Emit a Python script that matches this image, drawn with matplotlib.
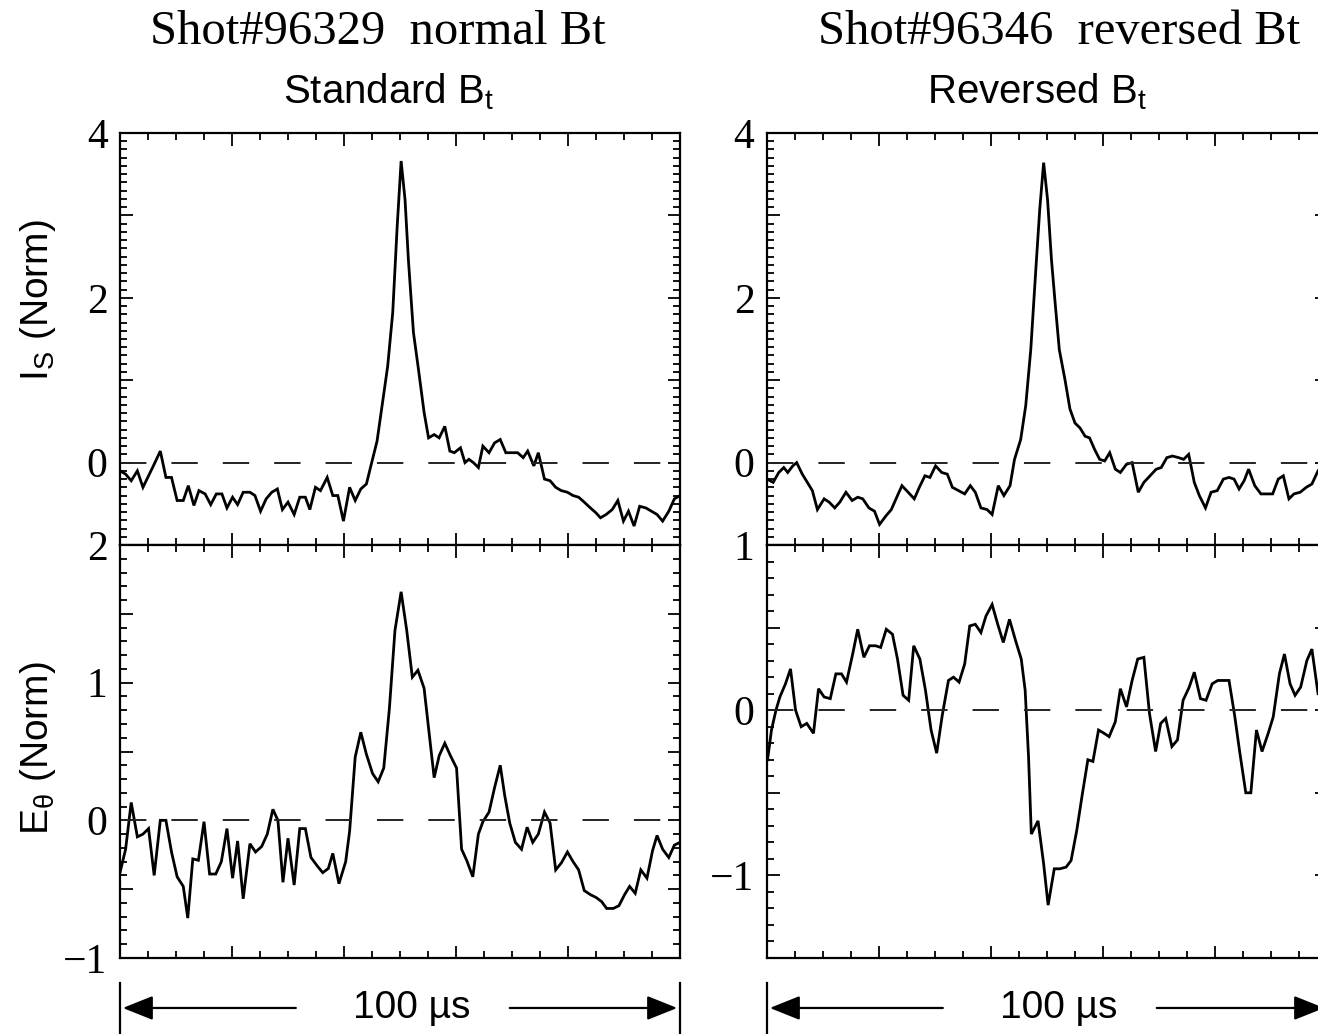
import matplotlib
matplotlib.use("Agg")
import matplotlib.pyplot as plt
from matplotlib.ticker import FixedLocator, MultipleLocator

plt.rcParams['mathtext.fontset'] = 'custom'
plt.rcParams['mathtext.rm'] = 'Liberation Sans'
plt.rcParams['mathtext.it'] = 'Liberation Sans:italic'
plt.rcParams['lines.scale_dashes'] = False

SERIF = 'Liberation Serif'
SANS = 'Liberation Sans'

# ---- ion saturation current, normal Bt (shot 96329) ----
t_is_norm = [0.0, 1.0, 2.0, 3.1, 4.1, 5.1, 6.1, 7.2, 8.2, 9.2, 10.2, 11.3, 12.2, 13.2, 14.1,
             15.2, 16.2, 17.2, 18.2, 19.1, 20.1, 21.0, 22.0, 23.2, 24.1, 25.1, 26.1, 27.1,
             28.1, 29.0, 30.0, 31.1, 32.1, 33.1, 33.9, 34.9, 35.8, 37.0, 38.0, 38.9, 39.9,
             41.0, 42.0, 43.0, 44.0, 44.8, 45.9, 46.8, 47.8, 48.7, 49.5, 50.2, 50.9, 51.5,
             52.4, 53.3, 54.3, 55.1, 56.1, 57.0, 58.0, 58.9, 59.7, 60.8, 61.6, 62.3, 63.1,
             64.0, 64.8, 65.9, 66.9, 67.9, 68.9, 70.0, 71.0, 72.0, 72.8, 73.9, 74.7, 75.8,
             76.8, 77.8, 78.8, 79.9, 80.9, 81.9, 82.9, 84.0, 85.0, 85.8, 86.8, 87.9, 88.9,
             89.9, 90.8, 91.8, 92.8, 93.9, 94.9, 95.9, 96.9, 98.0, 99.0, 100.0]
is_norm = [-0.10, -0.14, -0.22, -0.10, -0.30, -0.16, -0.02, 0.14, -0.18, -0.18, -0.46, -0.46,
           -0.28, -0.52, -0.34, -0.38, -0.51, -0.38, -0.38, -0.55, -0.42, -0.51, -0.36, -0.36,
           -0.40, -0.59, -0.44, -0.36, -0.32, -0.57, -0.48, -0.63, -0.42, -0.42, -0.57, -0.30,
           -0.34, -0.18, -0.40, -0.40, -0.71, -0.30, -0.46, -0.32, -0.26, -0.04, 0.26, 0.69,
           1.17, 1.82, 2.87, 3.66, 3.19, 2.46, 1.58, 1.13, 0.61, 0.30, 0.34, 0.30, 0.44, 0.14,
           0.12, 0.18, 0.00, 0.04, 0.00, -0.06, 0.20, 0.12, 0.24, 0.28, 0.12, 0.12, 0.12, 0.06,
           0.14, -0.04, 0.12, -0.20, -0.22, -0.30, -0.34, -0.36, -0.40, -0.42, -0.48, -0.55,
           -0.61, -0.67, -0.63, -0.57, -0.46, -0.71, -0.59, -0.77, -0.53, -0.55, -0.59, -0.63,
           -0.71, -0.59, -0.44, -0.40]

# ---- poloidal electric field, normal Bt ----
t_e_norm = [0.0, 1.0, 2.0, 3.1, 4.1, 5.1, 6.1, 7.2, 8.2, 9.2, 10.2, 11.3, 12.1, 13.0, 14.0,
            15.0, 16.0, 17.1, 18.1, 19.1, 20.1, 21.0, 22.0, 23.2, 24.2, 25.3, 26.3, 27.3,
            28.2, 29.1, 30.0, 31.1, 32.1, 33.1, 34.1, 35.2, 36.2, 37.2, 38.0, 39.1, 40.3,
            41.0, 42.0, 43.0, 44.0, 45.1, 46.1, 47.1, 48.1, 49.1, 50.2, 51.2, 52.2, 53.2,
            54.3, 55.1, 56.1, 57.0, 58.0, 59.0, 60.1, 61.0, 61.9, 63.0, 64.0, 64.8, 65.9,
            66.9, 67.9, 68.7, 69.6, 70.6, 71.7, 72.7, 73.7, 74.7, 75.8, 76.8, 77.8, 78.8,
            79.9, 80.9, 81.9, 82.9, 84.0, 85.0, 86.0, 86.9, 88.1, 89.1, 90.1, 91.0, 92.0,
            93.0, 94.1, 95.1, 95.9, 96.9, 98.0, 99.0, 100.0]
e_norm = [-0.38, -0.21, 0.13, -0.12, -0.10, -0.06, -0.40, 0.00, 0.00, -0.23, -0.41, -0.48,
          -0.71, -0.28, -0.29, -0.01, -0.39, -0.39, -0.30, -0.06, -0.42, -0.15, -0.57, -0.17,
          -0.23, -0.19, -0.10, 0.08, 0.00, -0.45, -0.13, -0.47, -0.06, -0.06, -0.27, -0.33,
          -0.38, -0.35, -0.24, -0.46, -0.30, -0.08, 0.46, 0.64, 0.48, 0.34, 0.28, 0.38, 0.81,
          1.38, 1.66, 1.38, 1.04, 1.09, 0.96, 0.67, 0.31, 0.47, 0.56, 0.47, 0.38, -0.21, -0.29,
          -0.41, -0.10, -0.01, 0.06, 0.24, 0.40, 0.18, -0.02, -0.16, -0.21, -0.05, -0.16, -0.10,
          0.06, -0.02, -0.36, -0.31, -0.23, -0.30, -0.36, -0.51, -0.54, -0.56, -0.59, -0.64,
          -0.64, -0.62, -0.54, -0.48, -0.53, -0.36, -0.42, -0.22, -0.11, -0.21, -0.27, -0.18,
          -0.16]

# ---- ion saturation current, reversed Bt (shot 96346) ----
t_is_rev = [0.0, 1.1, 2.1, 3.0, 3.7, 4.6, 5.3, 6.3, 7.2, 8.1, 9.0, 10.2, 11.1, 12.1, 13.0,
            14.1, 15.2, 16.2, 17.1, 18.2, 19.2, 20.1, 21.2, 22.2, 23.3, 24.1, 25.2, 26.3,
            27.2, 28.2, 29.1, 30.1, 31.2, 32.2, 33.1, 34.2, 35.3, 36.3, 37.2, 38.2, 39.3,
            40.2, 41.3, 42.3, 43.4, 44.2, 45.3, 46.2, 47.1, 48.0, 48.7, 49.4, 50.1, 50.8,
            51.5, 52.2, 53.2, 54.1, 55.0, 55.9, 56.8, 57.6, 58.5, 59.4, 60.3, 61.2, 62.2,
            63.1, 64.2, 65.2, 66.3, 67.3, 68.4, 69.5, 70.4, 71.4, 72.4, 73.5, 74.4, 75.3,
            76.3, 77.2, 78.3, 79.3, 80.4, 81.5, 82.5, 83.4, 84.3, 85.2, 86.0, 87.1, 88.2,
            89.2, 90.3, 91.3, 92.2, 93.2, 94.1, 95.2, 96.3, 97.3, 98.4]
is_rev = [-0.20, -0.24, -0.12, -0.06, -0.12, -0.04, 0.00, -0.14, -0.24, -0.34, -0.57, -0.44,
          -0.48, -0.55, -0.48, -0.36, -0.46, -0.42, -0.44, -0.55, -0.59, -0.75, -0.65, -0.57,
          -0.40, -0.28, -0.36, -0.44, -0.30, -0.16, -0.18, -0.04, -0.12, -0.14, -0.30, -0.34,
          -0.38, -0.28, -0.36, -0.55, -0.57, -0.63, -0.28, -0.40, -0.28, 0.04, 0.28, 0.69,
          1.37, 2.34, 3.07, 3.64, 3.19, 2.46, 1.90, 1.37, 1.01, 0.65, 0.48, 0.42, 0.32, 0.30,
          0.16, 0.04, 0.02, 0.12, -0.08, -0.12, -0.02, 0.00, -0.36, -0.24, -0.16, -0.08, -0.06,
          0.06, 0.08, 0.06, 0.04, 0.10, -0.24, -0.40, -0.55, -0.36, -0.34, -0.20, -0.18, -0.20,
          -0.32, -0.22, -0.08, -0.28, -0.38, -0.38, -0.38, -0.20, -0.16, -0.44, -0.38, -0.36,
          -0.30, -0.26, -0.10]

# ---- poloidal electric field, reversed Bt ----
t_e_rev = [0.1, 0.8, 1.6, 2.3, 3.3, 4.2, 5.1, 6.1, 7.1, 8.3, 9.2, 10.2, 11.3, 12.3, 13.3,
           14.2, 15.3, 16.2, 17.3, 18.3, 19.4, 20.3, 21.3, 22.4, 23.3, 24.3, 25.3, 26.2,
           27.3, 28.3, 29.3, 30.3, 31.3, 32.4, 33.3, 34.3, 35.3, 36.2, 37.2, 38.2, 39.1,
           40.2, 41.2, 42.2, 43.3, 44.4, 45.4, 46.1, 46.7, 47.2, 48.4, 49.4, 50.2, 51.3,
           52.3, 53.4, 54.3, 55.3, 56.3, 57.3, 58.2, 59.2, 60.2, 61.1, 62.2, 63.1, 64.2,
           65.2, 66.2, 67.3, 68.3, 69.4, 70.3, 71.2, 72.3, 73.3, 74.3, 75.4, 76.3, 77.4,
           78.4, 79.5, 80.5, 81.6, 82.5, 83.5, 84.4, 85.5, 86.4, 87.4, 88.4, 89.5, 90.4,
           91.5, 92.4, 93.4, 94.3, 95.3, 96.4, 97.3, 98.4]
e_rev = [-0.30, -0.12, 0.00, 0.08, 0.16, 0.25, 0.00, -0.10, -0.08, -0.14, 0.13, 0.08, 0.07,
         0.22, 0.22, 0.17, 0.34, 0.49, 0.32, 0.39, 0.39, 0.38, 0.49, 0.46, 0.31, 0.09, 0.06,
         0.39, 0.31, 0.12, -0.12, -0.26, -0.03, 0.18, 0.20, 0.17, 0.28, 0.51, 0.52, 0.47, 0.57,
         0.64, 0.52, 0.41, 0.55, 0.42, 0.31, 0.12, -0.28, -0.75, -0.67, -0.93, -1.18, -0.96,
         -0.96, -0.95, -0.91, -0.73, -0.51, -0.30, -0.31, -0.12, -0.14, -0.16, -0.07, 0.13,
         0.02, 0.18, 0.31, 0.32, -0.02, -0.25, -0.08, -0.05, -0.22, -0.18, 0.06, 0.14, 0.23,
         0.07, 0.06, 0.16, 0.18, 0.18, 0.18, -0.03, -0.25, -0.50, -0.50, -0.12, -0.25, -0.14,
         -0.04, 0.22, 0.34, 0.16, 0.09, 0.14, 0.30, 0.37, 0.10]

# y axis limits, major tick positions and their labels per panel
is_ylim = (-1, 4)
is_majors = [-1, 0, 1, 2, 3, 4]
is_labels = ['', '0', '', '2', '', '4']
e_norm_ylim = (-1, 2)
e_norm_majors = [-1, -0.5, 0, 0.5, 1, 1.5, 2]
e_norm_labels = ['\u22121', '', '0', '', '1', '', '2']
e_rev_ylim = (-1.5, 1)
e_rev_majors = [-1.5, -1, -0.5, 0, 0.5, 1]
e_rev_labels = ['', '\u22121', '', '0', '', '1']

W, H = 1318, 1034
fig = plt.figure(figsize=(W / 100, H / 100), dpi=100)


def px_axes(x0, y0, x1, y1):
    return fig.add_axes([x0 / W, 1 - y1 / H, (x1 - x0) / W, (y1 - y0) / H])


ax_tl = px_axes(120, 133, 680, 545)
ax_bl = px_axes(120, 545, 680, 958)
ax_tr = px_axes(767, 133, 1327, 545)
ax_br = px_axes(767, 545, 1327, 958)

panels = [
    (ax_tl, t_is_norm, is_norm, is_ylim, is_majors, is_labels),
    (ax_bl, t_e_norm, e_norm, e_norm_ylim, e_norm_majors, e_norm_labels),
    (ax_tr, t_is_rev, is_rev, is_ylim, is_majors, is_labels),
    (ax_br, t_e_rev, e_rev, e_rev_ylim, e_rev_majors, e_rev_labels),
]

for ax, t, y, ylim, majors, labels in panels:
    ax.plot(t, y, color='black', lw=2.0, solid_joinstyle='miter')
    ax.axhline(0, color='#222222', lw=1.4, linestyle=(0, (19, 18)))
    ax.set_xlim(0, 100)
    ax.set_ylim(*ylim)
    ax.xaxis.set_major_locator(MultipleLocator(20))
    ax.xaxis.set_minor_locator(MultipleLocator(5))
    ax.yaxis.set_major_locator(FixedLocator(majors))
    ax.yaxis.set_minor_locator(MultipleLocator(0.1))
    ax.set_yticklabels(labels)
    ax.tick_params(which='both', direction='in', top=True, right=True, width=1.3,
                   labelbottom=False, pad=9)
    ax.tick_params(which='major', length=9)
    ax.tick_params(which='minor', length=5)
    for lab in ax.get_yticklabels():
        lab.set_fontfamily(SERIF)
        lab.set_fontsize(30)
    for sp in ax.spines.values():
        sp.set_linewidth(1.6)

# time-span arrows below the bottom panels
for ax in (ax_bl, ax_br):
    ya = -0.121
    arrow = dict(arrowstyle='-|>,head_length=0.55,head_width=0.22', lw=1.6,
                 color='black', mutation_scale=34, shrinkA=0, shrinkB=0)
    ax.annotate('', xy=(0.005, ya), xytext=(0.314, ya), xycoords='axes fraction',
                arrowprops=arrow, annotation_clip=False)
    ax.annotate('', xy=(0.995, ya), xytext=(0.696, ya), xycoords='axes fraction',
                arrowprops=arrow, annotation_clip=False)
    for xb in (0, 1):
        ax.plot([xb, xb], [-0.06, -0.2], transform=ax.transAxes, color='black',
                lw=1.6, clip_on=False)
    ax.text(0.52, ya, '100 \u00b5s', transform=ax.transAxes, ha='center', va='center',
            fontsize=28, family=SANS)

# titles and axis labels
fig.text(378 / W, 1 - 32 / H, 'Shot#96329  normal Bt', ha='center', va='center',
         fontsize=35, family=SERIF)
fig.text(1059 / W, 1 - 32 / H, 'Shot#96346  reversed Bt', ha='center', va='center',
         fontsize=35, family=SERIF)
fig.text(389 / W, 1 - 92 / H, r'Standard B$_\mathrm{t}$', ha='center', va='center',
         fontsize=29, family=SANS)
fig.text(1037 / W, 1 - 92 / H, r'Reversed B$_\mathrm{t}$', ha='center', va='center',
         fontsize=29, family=SANS)
fig.text(38 / W, 1 - 300 / H, r'I$_\mathrm{S}$ (Norm)', ha='center', va='center',
         rotation=90, fontsize=28, family=SANS)
fig.text(38 / W, 1 - 748 / H, r'E$_\mathrm{\theta}$ (Norm)', ha='center', va='center',
         rotation=90, fontsize=28, family=SANS)

fig.savefig('out.png', dpi=100)
